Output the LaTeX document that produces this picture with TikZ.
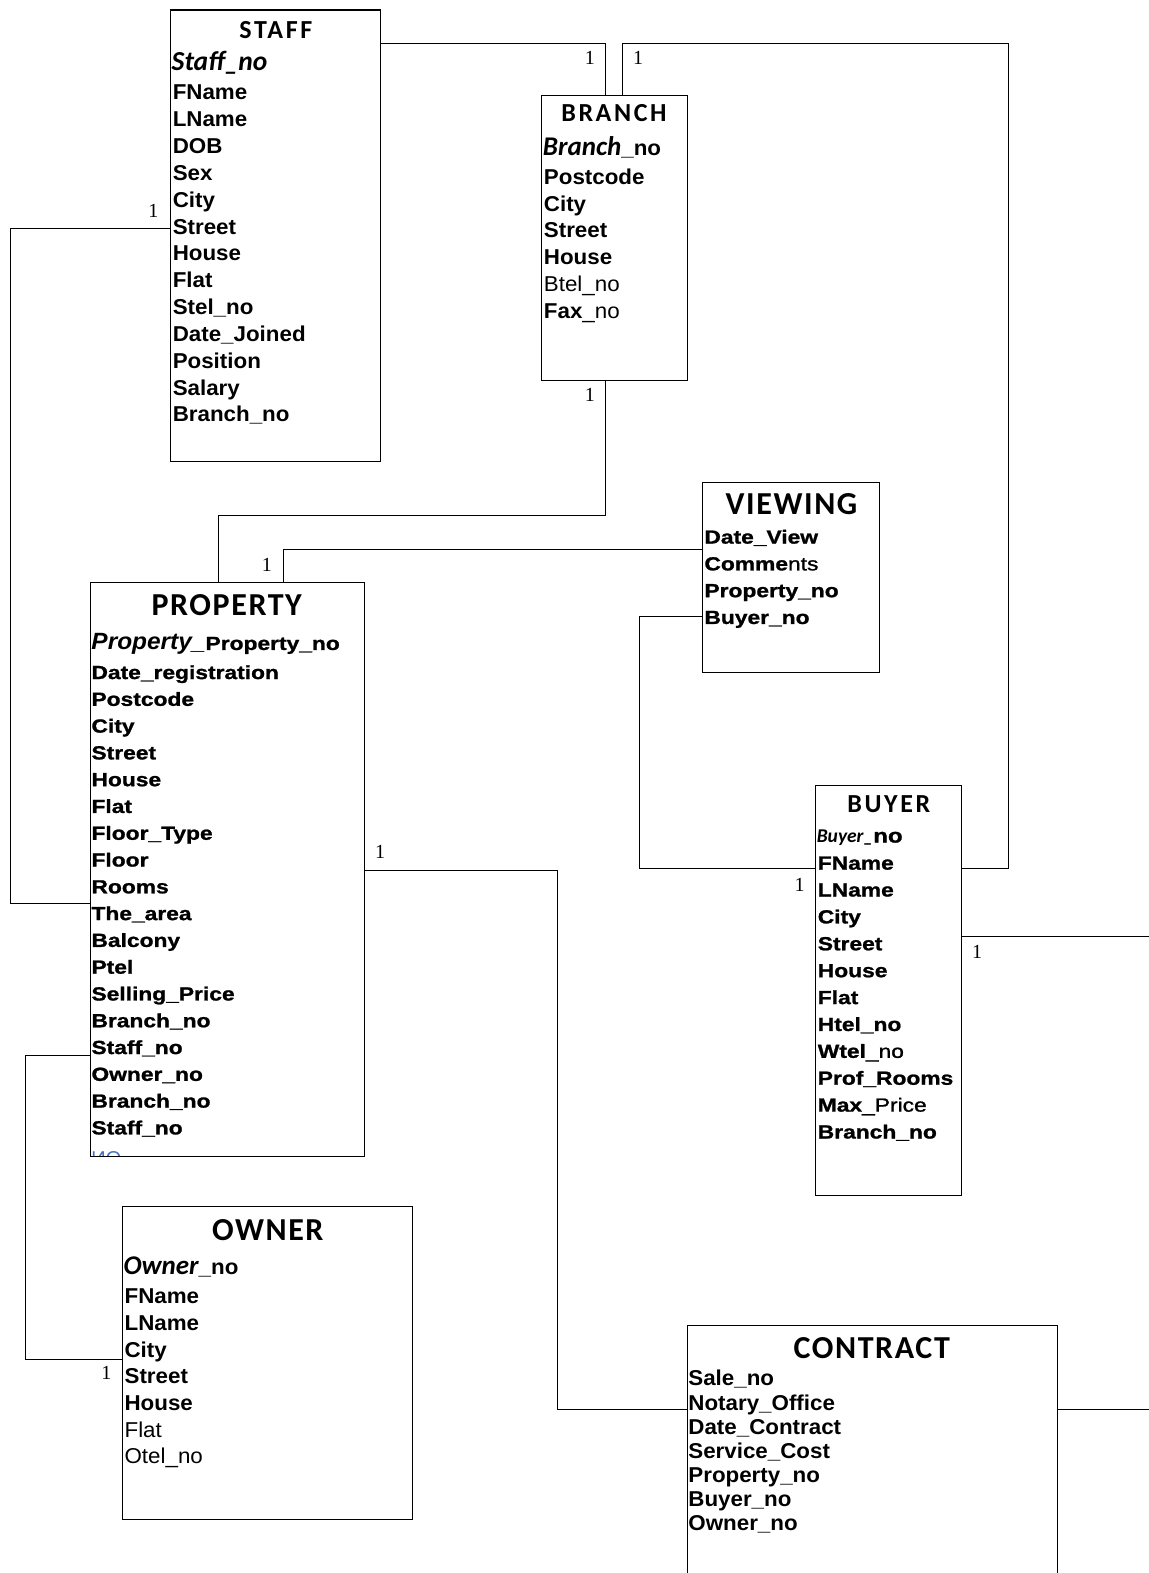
\documentclass[tikz,border=0pt]{standalone}
\usepackage{fontspec}
\setmainfont{Liberation Sans}
\newfontfamily\fldfont{Liberation Sans}[FakeStretch=1.04]
\newfontfamily\widefont{Liberation Sans}[FakeStretch=1.2,FakeBold=1.2]
\newfontfamily\keyfont{Carlito}
\newfontfamily\ttlsfont{Carlito}[LetterSpace=10]
\newfontfamily\ttllfont{Carlito}[LetterSpace=5]
\newfontfamily\onefont{Liberation Serif}
\usetikzlibrary{fit}
\definecolor{linkblue}{RGB}{68,114,196}
\begin{document}
\begin{tikzpicture}[x=1.0035pt,y=-1.0035pt,
  box/.style={draw, line width=1.1pt, inner sep=0pt},
  conn/.style={draw, line width=1pt},
  fld/.style={anchor=base west, inner sep=0pt, yshift=-7.6pt, font=\fldfont\bfseries\fontsize{21.5}{24}\selectfont},
  wfld/.style={anchor=base west, inner sep=0pt, yshift=-6.9pt, font=\widefont\bfseries\fontsize{19}{22}\selectfont},
  ttlS/.style={anchor=base, inner sep=0pt, yshift=-8.4pt, font=\ttlsfont\bfseries\fontsize{26}{30}\selectfont},
  ttlL/.style={anchor=base, inner sep=0pt, yshift=-10.4pt, font=\ttllfont\bfseries\fontsize{32}{36}\selectfont},
  one/.style={inner sep=0pt, font=\onefont\fontsize{20}{24}\selectfont}
]
\useasboundingbox (0,0) rectangle (1145,1568);

% ---------- boxes ----------
\node[box, fit={(170,10) (379,460)}] (staff) {};
\node[box, fit={(540,95) (685,379)}] (branch) {};
\node[box, fit={(700,481) (877,670)}] (viewing) {};
\begin{scope}
  \clip (90,1140) rectangle (363,1153);
  \node[anchor=north west, inner sep=0pt, text=linkblue, font=\fontsize{20}{24}\selectfont] (propextra) at (91,1148) {ИО};
\end{scope}
\node[box, fit={(90,581) (363,1153)}] (property) {};
\node[box, fit={(813,783) (958,1192)}] (buyer) {};
\node[box, fit={(122,1203) (411,1515)}] (owner) {};
\node[box, fit={(685,1321) (1054,1580)}] (contract) {};

% ---------- titles ----------
\node[ttlS] (staff-t) at (275,30) {STAFF};
\node[ttlS] (branch-t) at (612,113) {BRANCH};
\node[ttlL] (viewing-t) at (789,502) {VIEWING};
\node[ttlL] (property-t) at (226,603) {PROPERTY};
\node[ttlS] (buyer-t) at (886,802) {BUYER};
\node[ttlL] (owner-t) at (267,1226) {OWNER};
\node[ttlL] (contract-t) at (869,1344) {CONTRACT};

% ---------- STAFF ----------
\node[fld] (staff-k) at (171,63) {{\keyfont\itshape\fontsize{27.5}{30}\selectfont Staff\_no}};
\foreach \t [count=\i from 0] in {FName,LName,DOB,Sex,City,Street,House,Flat,Stel\_no,Date\_Joined,Position,Salary,Branch\_no}
  \node[fld] (staff-\i) at (172,{92+26.75*\i}) {\t};

% ---------- BRANCH ----------
\node[fld] (branch-k) at (541,147) {{\keyfont\itshape\fontsize{27}{30}\selectfont Branch}\_no};
\foreach \t [count=\i from 0] in {Postcode,City,Street,House,{\mdseries Btel\_no},{Fax\mdseries\_no}}
  \node[fld] (branch-\i) at (542,{176+26.8*\i}) {\t};

% ---------- VIEWING ----------
\foreach \t [count=\i from 0] in {Date\_View,{Comme\mdseries nts},Property\_no,Buyer\_no}
  \node[wfld] (viewing-\i) at (702,{535+26.7*\i}) {\t};

% ---------- PROPERTY ----------
\node[wfld] (property-k) at (91,641) {{\fldfont\itshape\fontsize{23.5}{26}\selectfont Property\_}Property\_no};
\foreach \t [count=\i from 0] in {Date\_registration,Postcode,City,Street,House,Flat,Floor\_Type,Floor,Rooms,The\_area,Balcony,Ptel,Selling\_Price,Branch\_no,Staff\_no,Owner\_no,Branch\_no,Staff\_no}
  \node[wfld] (property-\i) at (91,{670+26.7*\i}) {\t};

% ---------- BUYER ----------
\node[wfld] (buyer-k) at (814,833) {{\keyfont\itshape\fontsize{19.5}{22}\selectfont Buyer\_}{\fontsize{20}{22}\selectfont no}};
\foreach \t [count=\i from 0] in {FName,LName,City,Street,House,Flat,Htel\_no,{Wtel\mdseries\_no},Prof\_Rooms,{Max\mdseries\_Price},Branch\_no}
  \node[wfld] (buyer-\i) at (815,{860+26.8*\i}) {\t};

% ---------- OWNER ----------
\node[fld] (owner-k) at (123,1263) {{\keyfont\itshape\fontsize{27}{30}\selectfont Owner}\_no};
\foreach \t [count=\i from 0] in {FName,LName,City,Street,House,{\mdseries Flat},{\mdseries Otel\_no}}
  \node[fld] (owner-\i) at (124,{1292+26.6*\i}) {\t};

% ---------- CONTRACT ----------
\foreach \t [count=\i from 0] in {Sale\_no,Notary\_Office,Date\_Contract,Service\_Cost,Property\_no,Buyer\_no,Owner\_no}
  \node[fld] (contract-\i) at (686,{1374+24*\i}) {\t};

% ---------- connectors ----------
\coordinate (edgeA) at (1146,934);
\coordinate (edgeB) at (1146,1405);
\draw[conn] (staff.east |- 0,43) -- (604,43) -- (604,0 |- branch.north);
\draw[conn] (621,0 |- branch.north) -- (621,43) -- (1005,43) -- (1005,866) -- (buyer.east |- 0,866);
\draw[conn] (604,0 |- branch.south) -- (604,514) -- (218,514) -- (218,0 |- property.north);
\draw[conn] (viewing.west |- 0,548) -- (283,548) -- (283,0 |- property.north);
\draw[conn] (staff.west |- 0,228) -- (10,228) -- (10,901) -- (property.west |- 0,901);
\draw[conn] (property.east |- 0,868) -- (556,868) -- (556,1405) -- (contract.west |- 0,1405);
\draw[conn] (viewing.west |- 0,615) -- (637,615) -- (637,866) -- (buyer.west |- 0,866);
\draw[conn] (property.west |- 0,1052) -- (25,1052) -- (25,1355) -- (owner.west |- 0,1355);
\draw[conn] (buyer.east |- 0,934) -- (edgeA);
\draw[conn] (contract.east |- 0,1405) -- (edgeB);

% ---------- cardinality labels ----------
\node[one] (c1) at (588,58) {1};
\node[one] (c2) at (636,58) {1};
\node[one] (c3) at (588,394) {1};
\node[one] (c4) at (266,563) {1};
\node[one] (c5) at (153,210) {1};
\node[one] (c6) at (379,849) {1};
\node[one] (c7) at (797,882) {1};
\node[one] (c8) at (106,1369) {1};
\node[one] (c9) at (974,949) {1};
\end{tikzpicture}
\end{document}
